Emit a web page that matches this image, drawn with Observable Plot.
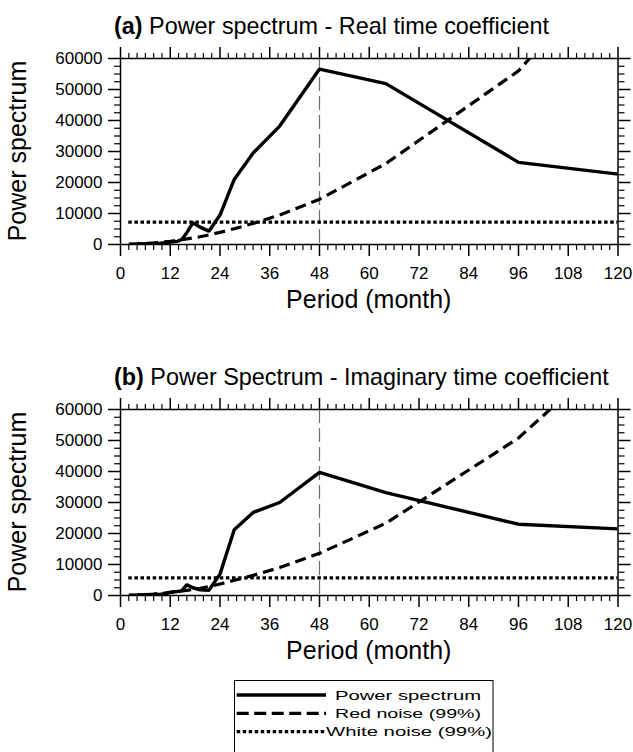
<!DOCTYPE html>
<html>
<head>
<meta charset="utf-8">
<script src="https://cdn.jsdelivr.net/npm/d3@7"></script>
<script src="https://cdn.jsdelivr.net/npm/@observablehq/plot@0.6"></script>
<style>
  html, body { margin: 0; padding: 0; background: #fff; }
  #wrap { position: relative; width: 633px; height: 752px; overflow: hidden; font-family: "Liberation Sans", Arial, sans-serif; }
  #wrap > div.panel { position: absolute; left: 0; }
  #overlay { position: absolute; left: 0; top: 0; pointer-events: none; }
</style>
</head>
<body>
<div id="wrap">
  <div class="panel" id="pa" style="top:0px"></div>
  <div class="panel" id="pb" style="top:351px"></div>
  <svg id="overlay" width="633" height="752"></svg>
</div>
<script>
// Periods (months) of the spectral estimates
const periods = [192, 96, 64, 48, 38.4, 32, 27.43, 24, 21.33, 19.2, 17.45, 16, 14.77, 13.71, 12.8, 12, 11.29, 10.67, 10.1, 9.6, 8, 6, 4, 2];

// (a) Real time coefficient
const powerA = [11300, 26500, 51900, 56600, 38200, 29500, 21000, 9500, 4300, 5600, 7000, 3800, 1600, 1000, 900, 800, 650, 550, 500, 450, 350, 250, 150, 100];
const redA   = [200000, 56000, 26100, 14600, 9500, 6800, 5100, 3900, 3100, 2500, 2100, 1800, 1550, 1350, 1200, 1050, 950, 850, 780, 700, 520, 330, 180, 60];
const whiteA = 7200;

// (b) Imaginary time coefficient
const powerB = [17000, 23000, 33200, 39700, 30000, 26800, 21200, 6900, 1700, 1800, 2500, 3500, 1500, 1300, 1200, 1000, 700, 600, 500, 450, 350, 250, 150, 100];
const redB   = [167000, 50800, 23300, 13600, 9000, 6500, 4900, 3700, 2900, 2350, 1950, 1650, 1450, 1250, 1100, 1000, 900, 800, 720, 650, 480, 300, 160, 50];
const whiteB = 5700;

const markPeriod = 48;
const xMajor = [0, 12, 24, 36, 48, 60, 72, 84, 96, 108, 120];
const yMajor = [0, 10000, 20000, 30000, 40000, 50000, 60000];
const xMinor = d3.range(0, 121, 2).filter(v => v % 12 !== 0);
const yMinor = d3.range(0, 60001, 2500).filter(v => v % 10000 !== 0);

const titles = [
  {tag: "(a)", text: " Power spectrum - Real time coefficient"},
  {tag: "(b)", text: " Power Spectrum - Imaginary time coefficient"}
];
const legendLabels = ["Power spectrum", "Red noise (99%)", "White noise (99%)"];

function panel(power, red, white) {
  const rows = periods.map((p, i) => ({p, power: power[i], red: red[i]}));
  const empty = () => "";
  return Plot.plot({
    width: 633, height: 330,
    marginLeft: 120, marginRight: 15.5, marginTop: 58, marginBottom: 86,
    x: {domain: [0, 120]},
    y: {domain: [0, 60000]},
    style: {fontFamily: "'Liberation Sans', Arial, sans-serif", fontSize: "17px", color: "black", background: "transparent", overflow: "visible"},
    marks: [
      Plot.ruleX([markPeriod], {stroke: "#6e6e6e", strokeWidth: 1.2, strokeDasharray: "14,5"}),
      Plot.ruleY([white], {x1: 2, x2: 120, stroke: "black", strokeWidth: 3.2, strokeDasharray: "3.5,2.6"}),
      Plot.line(rows, {x: "p", y: "red", clip: true, stroke: "black", strokeWidth: 3.2, strokeDasharray: "11,6", strokeLinecap: "butt", strokeLinejoin: "miter"}),
      Plot.line(rows, {x: "p", y: "power", clip: true, stroke: "black", strokeWidth: 3.4, strokeLinejoin: "miter", strokeLinecap: "butt"}),
      Plot.frame({stroke: "black", strokeWidth: 1.5}),
      Plot.axisX({ticks: xMajor, tickSize: 12, tickPadding: 10, tickFormat: d => String(d), label: null, strokeWidth: 1.5, fontSize: 17}),
      Plot.axisX({ticks: xMinor, tickSize: 6, tickFormat: empty, label: null, strokeWidth: 1.2}),
      Plot.axisX({anchor: "top", ticks: xMajor, tickSize: 12, tickFormat: empty, label: null, strokeWidth: 1.5}),
      Plot.axisX({anchor: "top", ticks: xMinor, tickSize: 6, tickFormat: empty, label: null, strokeWidth: 1.2}),
      Plot.axisY({ticks: yMajor, tickSize: 12, tickPadding: 6, tickFormat: d3.format("d"), label: null, strokeWidth: 1.5, fontSize: 17}),
      Plot.axisY({ticks: yMinor, tickSize: 6, tickFormat: empty, label: null, strokeWidth: 1.2}),
      Plot.axisY({anchor: "right", ticks: yMajor, tickSize: 12, tickFormat: empty, label: null, strokeWidth: 1.5}),
      Plot.axisY({anchor: "right", ticks: yMinor, tickSize: 6, tickFormat: empty, label: null, strokeWidth: 1.2})
    ]
  });
}

document.getElementById("pa").appendChild(panel(powerA, redA, whiteA));
document.getElementById("pb").appendChild(panel(powerB, redB, whiteB));

// Overlay: titles, axis labels, legend
const svg = d3.select("#overlay").attr("font-family", "'Liberation Sans', Arial, sans-serif");
const offsets = [0, 351];
titles.forEach((t, i) => {
  const dy = offsets[i];
  const tt = svg.append("text").attr("x", 114).attr("y", 34 + dy).attr("font-size", 23.4).attr("fill", "black");
  tt.append("tspan").attr("font-weight", "bold").text(t.tag);
  tt.append("tspan").text(t.text);
  svg.append("text").attr("transform", `translate(26,${151 + dy}) rotate(-90)`)
    .attr("text-anchor", "middle").attr("font-size", 25).text("Power spectrum");
  svg.append("text").attr("x", 368.75).attr("y", 308 + dy).attr("text-anchor", "middle")
    .attr("font-size", 25).text("Period (month)");
});

// Legend
svg.append("rect").attr("x", 234.5).attr("y", 680.5).attr("width", 258.5).attr("height", 90)
  .attr("fill", "white").attr("stroke", "black").attr("stroke-width", 1);
const legendStyles = [
  {dash: null, width: 3.5},
  {dash: "12,5.5", width: 3.2},
  {dash: "3.5,2.5", width: 3.2}
];
const legendY = [695, 713.3, 731.7];
const legendTextX = [335, 335, 326];
const legendTextW = [146, 146, 166];
legendLabels.forEach((lab, i) => {
  const ln = svg.append("line").attr("x1", 236.7).attr("x2", 326).attr("y1", legendY[i]).attr("y2", legendY[i])
    .attr("stroke", "black").attr("stroke-width", legendStyles[i].width);
  if (legendStyles[i].dash) ln.attr("stroke-dasharray", legendStyles[i].dash);
  svg.append("text").attr("x", legendTextX[i]).attr("y", legendY[i] + 4.6)
    .attr("font-size", 13.5).attr("textLength", legendTextW[i]).attr("lengthAdjust", "spacingAndGlyphs")
    .text(lab);
});
</script>
</body>
</html>
